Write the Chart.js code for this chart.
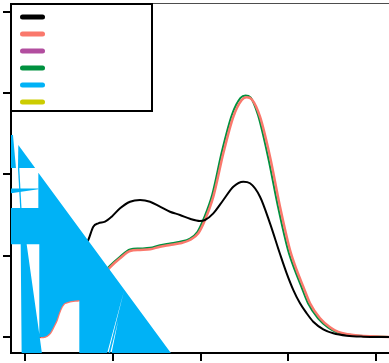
<!DOCTYPE html>
<html>
<head>
<meta charset="utf-8">
<style>
  html, body { margin: 0; padding: 0; background: #ffffff; }
  #wrap { width: 389px; height: 363px; }
</style>
<script src="https://cdn.jsdelivr.net/npm/chart.js@4/dist/chart.umd.min.js"></script>
</head>
<body>
<div id="wrap"><canvas id="c" width="389" height="363"></canvas></div>
<script>
// Axis tick positions (axes carry tick marks only, no labels)
const xTicks = [0, 1, 2, 3, 4];
const yTicks = [0, 0.1, 0.2, 0.3, 0.4];

// Series names and colours, in legend order
const seriesLabels = ['S1', 'S2', 'S3', 'S4', 'S5', 'S6'];
const seriesColors = ['#000000', '#FA786C', '#B24E9F', '#00913F', '#00B2F6', '#CCCC00'];

// Density curves
const blackX = [0.163,0.228,0.285,0.361,0.418,0.475,0.550,0.619,0.672,0.721,0.778,0.835,0.912,0.988,1.083,1.197,1.311,1.425,1.538,1.652,1.766,1.880,1.994,2.051,2.146,2.260,2.374,2.488,2.564,2.678,2.792,2.906,2.982,3.058,3.134,3.210,3.285,3.399,3.513,3.666,3.855,4.148];
const blackY = [0,0.0086,0.0209,0.0382,0.0517,0.0652,0.0849,0.0997,0.1120,0.1194,0.1358,0.1399,0.1419,0.1481,0.1584,0.1665,0.1686,0.1665,0.1604,0.1542,0.1502,0.1455,0.1428,0.1440,0.1522,0.1686,0.1850,0.1911,0.1892,0.1727,0.1399,0.1022,0.0784,0.0578,0.0415,0.0292,0.0188,0.0095,0.0046,0.0016,0.0004,0];

const salmonX = [0.163,0.209,0.247,0.285,0.323,0.361,0.387,0.418,0.444,0.475,0.513,0.550,0.619,0.684,0.764,0.855,0.912,0.969,1.083,1.197,1.311,1.425,1.538,1.652,1.766,1.880,1.975,2.051,2.146,2.260,2.374,2.470,2.527,2.583,2.678,2.792,2.906,3.020,3.096,3.171,3.248,3.362,3.476,3.570,3.741,4.148];
const salmonY = [0,0,0.0012,0.0049,0.0123,0.0209,0.0295,0.0372,0.0412,0.0427,0.0440,0.0447,0.0455,0.0505,0.0591,0.0714,0.0788,0.0858,0.0969,0.1058,0.1071,0.1079,0.1111,0.1132,0.1153,0.1194,0.1276,0.1440,0.1727,0.2261,0.2711,0.2917,0.2950,0.2926,0.2711,0.2219,0.1604,0.1071,0.0825,0.0620,0.0415,0.0230,0.0119,0.0062,0.0025,0];

const greenX = [0.163,0.205,0.239,0.274,0.308,0.348,0.376,0.405,0.433,0.467,0.513,0.550,0.619,0.684,0.764,0.855,0.912,0.969,1.083,1.197,1.311,1.425,1.538,1.652,1.766,1.880,1.966,2.040,2.134,2.245,2.359,2.456,2.513,2.570,2.655,2.769,2.883,2.997,3.074,3.149,3.225,3.339,3.453,3.548,3.741,4.148];
const greenY = [0,0,0.0012,0.0049,0.0123,0.0215,0.0308,0.0388,0.0431,0.0446,0.0458,0.0465,0.0474,0.0523,0.0609,0.0732,0.0806,0.0876,0.0987,0.1077,0.1089,0.1098,0.1130,0.1151,0.1172,0.1212,0.1295,0.1465,0.1754,0.2289,0.2738,0.2942,0.2972,0.2948,0.2732,0.2219,0.1604,0.1071,0.0825,0.0620,0.0415,0.0230,0.0119,0.0062,0.0021,0];

// Filled blue area: several closed outlines, separated by null
const blueX = [
  -0.165,-0.137,-0.103,-0.165, null,
  -0.076,0.1156,-0.080, null,
  -0.165,0.152,0.152,-0.165, null,
  -0.080,-0.065,-0.040,-0.055, null,
  0.152,1.678,0.982,1.063,0.965,0.945,1.128,0.931,0.619,0.619,0.550,0.513,0.475,0.444,0.418,0.387,0.361,0.323,0.285,0.247,0.209,0.1675,0.163,0.019,0.1675,0.195,-0.038,-0.049,-0.165,-0.165,0.152
];
const blueY = [
  0.2486,0.2486,0.2080,0.2080, null,
  0.2363,0.2080,0.2080, null,
  0.1828,0.1828,0.1818,0.1769, null,
  0.2080,0.2080,0.1588,0.1588, null,
  0.2022,-0.022,-0.022,0.0209,-0.022,-0.022,0.0566,-0.022,-0.022,0.0455,0.0447,0.0440,0.0427,0.0412,0.0372,0.0295,0.0209,0.0123,0.0049,0.0012,0,0,0.1141,0.1141,0,-0.022,-0.022,0.1141,0.1141,0.1588,0.1588
];

function toPoints(xs, ys) {
  const n = Math.min(xs.length, ys.length);
  const pts = [];
  for (let i = 0; i < n; i++) {
    if (ys[i] === null || xs[i] === null) pts.push({ x: 0, y: null });
    else pts.push({ x: xs[i], y: ys[i] });
  }
  return pts;
}

// Framed legend with colour swatches, top-left of the plot; also the thin top rule
const legendBox = {
  id: 'legendBox',
  afterDraw(chart) {
    const ctx = chart.ctx;
    const area = chart.chartArea;
    ctx.save();
    ctx.fillStyle = '#4d4d4d';
    ctx.fillRect(area.left, area.top - 1, area.right - area.left, 1);

    const boxL = area.left, boxT = area.top, boxW = 141, boxH = 107;
    ctx.fillStyle = '#ffffff';
    ctx.fillRect(boxL, boxT, boxW, boxH);
    ctx.strokeStyle = '#000000';
    ctx.lineWidth = 2;
    ctx.strokeRect(boxL, boxT, boxW, boxH);

    ctx.lineCap = 'round';
    ctx.lineWidth = 5;
    chart.data.datasets.forEach((ds, i) => {
      const y = boxT + 13 + i * 17;
      ctx.strokeStyle = ds.borderColor;
      ctx.beginPath();
      ctx.moveTo(boxL + 11.5, y);
      ctx.lineTo(boxL + 31.5, y);
      ctx.stroke();
    });
    ctx.restore();
  }
};

const tickGrid = { display: true, drawOnChartArea: false, drawTicks: true, tickLength: 8, color: '#000000', lineWidth: 2 };
const axisBorder = { display: true, color: '#000000', width: 2 };

new Chart(document.getElementById('c'), {
  type: 'line',
  data: {
    datasets: [
      { label: seriesLabels[0], data: toPoints(blackX, blackY), borderColor: seriesColors[0], borderWidth: 2, pointRadius: 0, fill: false, cubicInterpolationMode: 'monotone', order: 1 },
      { label: seriesLabels[1], data: toPoints(salmonX, salmonY), borderColor: seriesColors[1], borderWidth: 2.5, pointRadius: 0, fill: false, cubicInterpolationMode: 'monotone', order: 2 },
      { label: seriesLabels[2], data: [], borderColor: seriesColors[2], borderWidth: 2, pointRadius: 0, fill: false, order: 4 },
      { label: seriesLabels[3], data: toPoints(greenX, greenY), borderColor: seriesColors[3], borderWidth: 2, pointRadius: 0, fill: false, cubicInterpolationMode: 'monotone', order: 3 },
      { label: seriesLabels[4], data: toPoints(blueX, blueY), borderColor: seriesColors[4], backgroundColor: seriesColors[4], borderWidth: 0, pointRadius: 0, fill: 'shape', tension: 0, spanGaps: false, order: 0 },
      { label: seriesLabels[5], data: [], borderColor: seriesColors[5], borderWidth: 2, pointRadius: 0, fill: false, order: 5 }
    ]
  },
  options: {
    responsive: false,
    animation: false,
    devicePixelRatio: 1,
    layout: { padding: { top: 4, left: 0, right: 0, bottom: 0 } },
    plugins: {
      legend: { display: false },
      tooltip: { enabled: false },
      title: { display: false }
    },
    scales: {
      x: {
        type: 'linear',
        min: -0.1595,
        max: 4.148,
        grid: tickGrid,
        border: axisBorder,
        ticks: { display: false },
        afterBuildTicks: s => { s.ticks = xTicks.map(v => ({ value: v })); },
        afterFit: s => { s.height = 10; }
      },
      y: {
        type: 'linear',
        min: -0.0197,
        max: 0.40985,
        grid: tickGrid,
        border: axisBorder,
        ticks: { display: false },
        afterBuildTicks: s => { s.ticks = yTicks.map(v => ({ value: v })); },
        afterFit: s => { s.width = 11; }
      }
    }
  },
  plugins: [legendBox]
});
</script>
</body>
</html>
